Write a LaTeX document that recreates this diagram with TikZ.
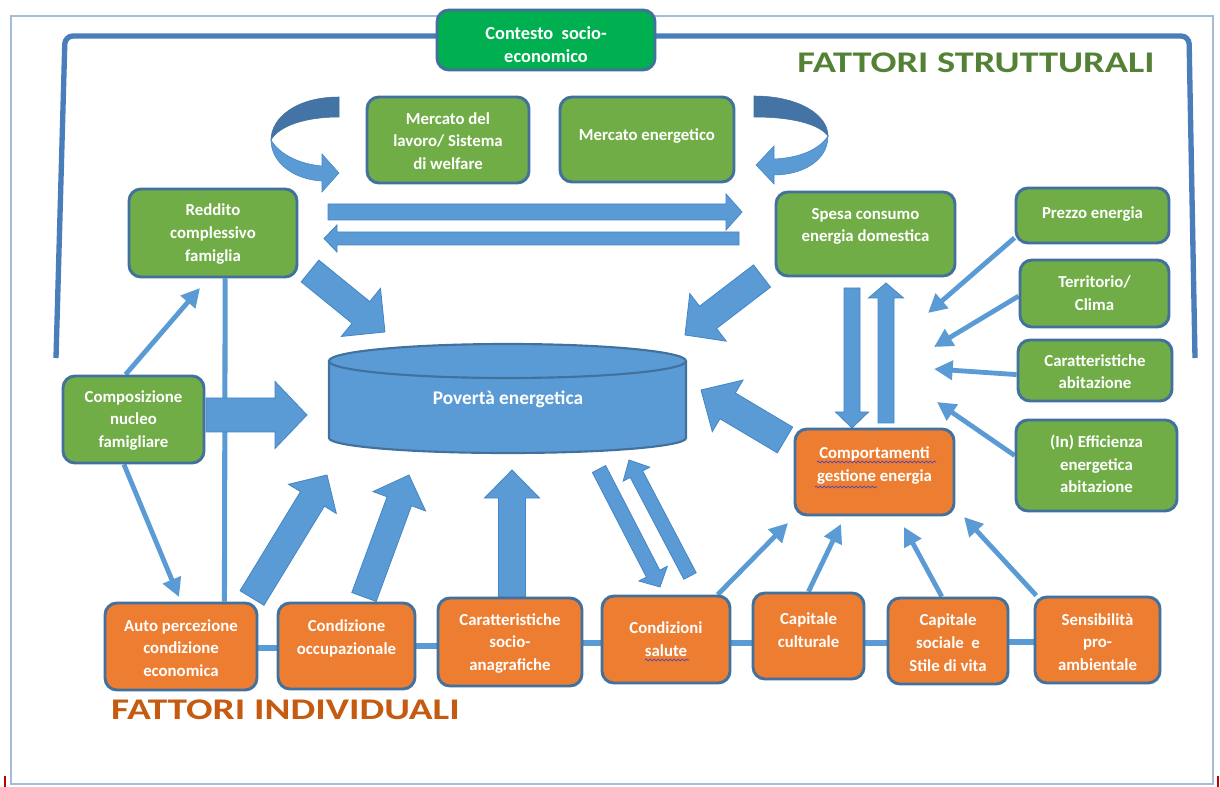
\documentclass[tikz,border=0pt]{standalone}
\usepackage{fontspec}
\setmainfont{Carlito}
\usetikzlibrary{arrows.meta,calc,decorations.pathmorphing}
\definecolor{boxgreen}{HTML}{70AD47}
\definecolor{contgreen}{HTML}{00B050}
\definecolor{boxorange}{HTML}{ED7D31}
\definecolor{boxborder}{HTML}{41719C}
\definecolor{arrowblue}{HTML}{5B9BD5}
\definecolor{arrowedge}{HTML}{4385C6}
\definecolor{bracketc}{HTML}{4A7EBB}
\definecolor{framec}{HTML}{A6BDD9}
\definecolor{hdrgreen}{HTML}{538135}
\definecolor{hdrorange}{HTML}{C55A11}
\definecolor{darkcurve}{HTML}{4474A6}
\definecolor{squig}{HTML}{4040C8}
\pgfdeclarelayer{bg}
\pgfsetlayers{bg,main}
\tikzset{
 box/.style={draw=boxborder, line width=2.2pt, rounded corners=9pt, inner sep=0pt},
 gbox/.style={box, fill=boxgreen},
 cbox/.style={box, fill=contgreen},
 obox/.style={box, fill=boxorange},
 txt/.style={text=white, font=\bfseries\fontsize{12.6}{17}\selectfont, align=center, inner sep=0pt},
 thinarrow/.style={draw=arrowblue, line width=3.6pt, -{Triangle[length=14pt,width=14pt]}},
 conn/.style={draw=arrowblue, line width=3.8pt},
 blockarrow/.style={fill=arrowblue, draw=arrowedge, line width=0.6pt},
 squiggle/.style={draw=squig, line width=0.5pt, decorate, decoration={snake, amplitude=0.7pt, segment length=3pt}},
}
\newcommand\mkbox[8]{%
 \node[#1, minimum width={(#5-#3)*0.75pt}, minimum height={(#6-#4)*0.75pt}] (#2) at ({(#3+#5)/2},{(#4+#6)/2}) {};
 \node[txt] (#2-t) at ({(#3+#5)/2},#7) {#8};
}
\newcommand\barrow[7]{%
 \pgfmathsetmacro\baang{atan2(#2-#4,#3-#1)}%
 \pgfmathsetmacro\balen{veclen(#3-#1,#4-#2)}%
 \pgfmathsetmacro\babase{\balen-#7}%
 \begin{scope}[shift={(#1,#2)},rotate=\baang]
 \filldraw[blockarrow] (0,-#5) -- (\babase,-#5) -- (\babase,-#6) -- (\balen,0) -- (\babase,#6) -- (\babase,#5) -- (0,#5) -- cycle;
 \end{scope}}
\begin{document}
\begin{tikzpicture}[x=0.75pt,y=-0.75pt]
\useasboundingbox (0,0) rectangle (1220,787);

% cylinder
\filldraw[fill=arrowblue, draw=boxborder, line width=1.6pt] (329,361) -- (329,438) .. controls (329,446.3) and (409.5,453) .. (508,453) .. controls (606.5,453) and (686,446.3) .. (686,438) -- (686,361);
\filldraw[fill=arrowblue, draw=boxborder, line width=1.6pt] (507.5,361) ellipse [x radius=178.5, y radius=17];
\node[text=white, font=\bfseries\fontsize{14.5}{17}\selectfont, anchor=base, inner sep=0pt] (pov) at (508,405) {Povertà energetica};

% curved arrows
\filldraw[darkcurve, draw=boxborder, line width=0.4pt] (339,97) .. controls (296,97) and (271,118) .. (271,140) .. controls (279,126) and (305,117) .. (339,117) -- cycle;
\filldraw[arrowblue, draw=arrowedge, line width=0.4pt] (271,140) .. controls (271,164) and (296,180) .. (322,181) -- (322,192) -- (339,173) -- (322,154) -- (322,166) .. controls (300,164) and (280,155) .. (271,140) -- cycle;
\filldraw[darkcurve, draw=boxborder, line width=0.4pt] (754,96) .. controls (799,96) and (828,115) .. (828,136) .. controls (819,124) and (792,117) .. (754,117) -- cycle;
\filldraw[arrowblue, draw=arrowedge, line width=0.4pt] (828,136) .. controls (828,161) and (802,175) .. (774,175) -- (774,184) -- (756,165) -- (774,146) -- (774,159) .. controls (797,158) and (818,151) .. (828,136) -- cycle;

% boxes
\mkbox{cbox}{cont}{437}{10}{655}{70}{44.5}{\fontsize{13.8}{18.75}\selectfont Contesto~~socio-\\\fontsize{13.8}{18.75}\selectfont economico}
\mkbox{gbox}{merl}{367}{97}{529}{183}{141}{Mercato del\\lavoro/ Sistema\\di welfare}
\mkbox{gbox}{mere}{560}{97}{734}{182}{136}{Mercato energetico}
\mkbox{gbox}{redd}{129}{189}{297}{277}{234}{Reddito\\complessivo\\famiglia}
\mkbox{gbox}{spesa}{776}{192}{955}{276}{226.5}{Spesa consumo\\energia domestica}
\mkbox{gbox}{prezzo}{1016}{188}{1169}{243}{214}{Prezzo energia}
\mkbox{gbox}{terr}{1020}{260}{1169}{327}{293.5}{Territorio/\\Clima}
\mkbox{gbox}{carab}{1018}{340}{1172}{401}{371.5}{Caratteristiche\\abitazione}
\mkbox{gbox}{eff}{1016}{420}{1177}{511}{464}{(In) Efficienza\\energetica\\abitazione}
\mkbox{gbox}{comp}{63}{376}{204}{463}{420.5}{Composizione\\nucleo\\famigliare}
\mkbox{obox}{compo}{795}{429}{954}{515}{465.5}{Comportamenti\\gestione energia}
\mkbox{obox}{auto}{105}{603}{257}{690}{648}{Auto percezione\\condizione\\economica}
\mkbox{obox}{occ}{278}{603}{415}{689}{638.5}{Condizione\\occupazionale}
\mkbox{obox}{socio}{438}{598}{582}{686}{643.5}{Caratteristiche\\socio-\\anagrafiche}
\mkbox{obox}{salute}{602}{596}{730}{683}{639}{Condizioni\\salute}
\mkbox{obox}{cult}{753}{593}{864}{679}{630}{Capitale\\culturale}
\mkbox{obox}{soc}{888}{598}{1008}{684}{642.5}{Capitale\\sociale~~e\\Stile di vita}
\mkbox{obox}{sens}{1035}{597}{1160}{683}{642}{Sensibilità\\pro-\\ambientale}

% spell-check squiggles
\draw[squiggle] (817,462) -- (936,462);
\draw[squiggle] (815,487) -- (877,487);
\draw[squiggle] (645,660) -- (689,660);

% headings
\node[text=hdrgreen, font=\bfseries\fontsize{22.5}{22}\selectfont, anchor=base, inner sep=0pt] (hs) at (976,73) {\scalebox{1.28}[1]{FATTORI STRUTTURALI}};
\node[text=hdrorange, font=\bfseries\fontsize{22.5}{22}\selectfont, anchor=base, inner sep=0pt] (hi) at (285.5,719) {\scalebox{1.31}[1]{FATTORI INDIVIDUALI}};

% free ends
\coordinate (reddin) at (200,288);
\coordinate (autoin) at (179,597);
\coordinate (f1) at (928,313);
\coordinate (f2) at (934,347);
\coordinate (f3) at (934,369);
\coordinate (f4) at (937,402);
\coordinate (g1) at (788,523);
\coordinate (g2) at (841,524);
\coordinate (g3) at (904,527);
\coordinate (g4) at (964,517);

\begin{pgfonlayer}{bg}
\fill[white] (0,0) rectangle (1220,787);
% outer frame
\draw[framec, line width=1pt] (11,16) rectangle (1213,784);
\draw[red!75!black, line width=1.5pt] (5,776) -- (5,787);
\draw[red!75!black, line width=1.5pt] (1218,776) -- (1218,787);
% bracket
\draw[bracketc, line width=4pt, rounded corners=6pt] (56,358) -- (65,36) -- (1189,36) -- (1195,358);

% thin connectors
\draw[thinarrow] (comp.100) -- (reddin);
\draw[thinarrow] (comp.258) -- (autoin);
\draw[conn] (redd.285) -- (auto.46);
\draw[thinarrow] (prezzo.196) -- (f1);
\draw[thinarrow] (terr.182) -- (f2);
\draw[thinarrow] (carab.183) -- (f3);
\draw[thinarrow] (eff.173) -- (f4);
\draw[thinarrow] (salute.41) -- (g1);
\draw[thinarrow] (cult.north) -- (g2);
\draw[thinarrow] (soc.98) -- (g3);
\draw[thinarrow] (sens.144) -- (g4);
% bottom row links
\draw[conn] (auto.east |- 0,648) -- (occ.west |- 0,648);
\draw[conn] (occ.east |- 0,646) -- (socio.west |- 0,646);
\draw[conn] (socio.east |- 0,643) -- (salute.west |- 0,643);
\draw[conn] (salute.east |- 0,643) -- (cult.west |- 0,643);
\draw[conn] (cult.east |- 0,643) -- (soc.west |- 0,643);
\draw[conn] (soc.east |- 0,642) -- (sens.west |- 0,642);

% block arrows
\barrow{310}{271}{385}{332}{14}{31}{31}
\barrow{762}{276}{685}{335}{14}{30}{29}
\barrow{206}{415}{307}{415}{17}{33.5}{32}
\barrow{252}{598}{327}{475}{14}{28}{28}
\barrow{364}{597}{409}{475}{13}{28}{28}
\barrow{512}{597}{512}{470}{13.5}{27.5}{28}
\barrow{599}{469}{660}{587}{7.5}{16}{15}
\barrow{690}{576}{629}{460}{7}{15}{16}
\barrow{785}{440}{701}{390}{15}{30}{31}
\barrow{852}{288}{852}{428}{8}{16.5}{16}
\barrow{886}{423}{886}{283}{8}{17.5}{15}
\barrow{328}{212}{742}{212}{8}{18}{16}
\barrow{739}{238.5}{324}{238.5}{6.5}{13.5}{13}
\end{pgfonlayer}
\end{tikzpicture}
\end{document}
